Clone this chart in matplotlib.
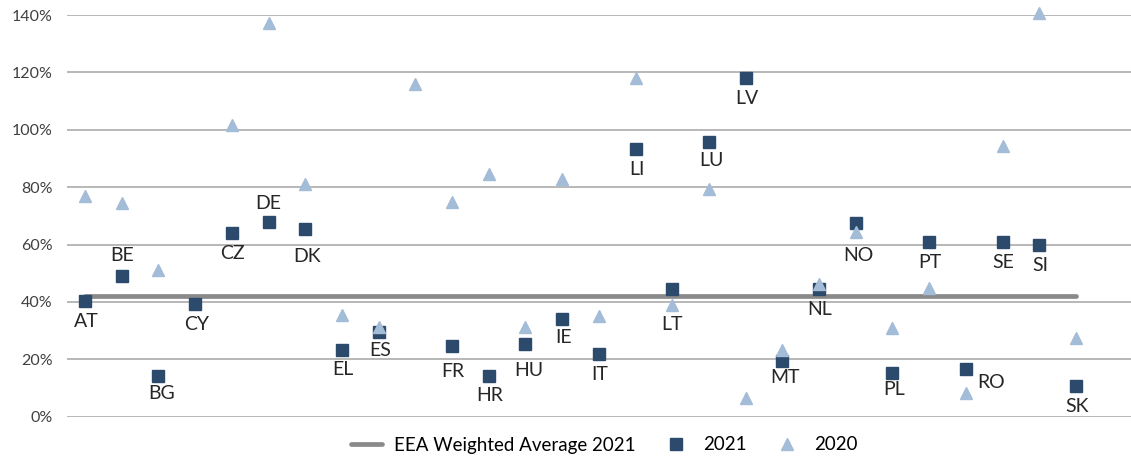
import matplotlib.pyplot as plt
import numpy as np

# country codes, positions 1..28
countries = ['AT', 'BE', 'BG', 'CY', 'CZ', 'DE', 'DK', 'EL', 'ES', 'FI',
             'FR', 'HR', 'HU', 'IE', 'IT', 'LI', 'LT', 'LU', 'LV', 'MT',
             'NL', 'NO', 'PL', 'PT', 'RO', 'SE', 'SI', 'SK']
# values in % (None = no value)
v2021 = [40.2, 49.2, 14.2, 39.2, 63.9, 67.8, 65.4, 23.3, 29.4, None,
         24.5, 14.3, 25.5, 33.9, 21.8, 93.2, 44.4, 95.8, 118.0, 19.5,
         44.4, 67.5, 15.4, 60.8, 16.7, 60.8, 59.8, 10.7]
v2020 = [76.9, 74.4, 51.0, None, 101.6, 137.3, 81.0, 35.6, 31.2, 116.0,
         74.8, 84.6, 31.2, 83.0, 35.2, 118.0, 39.0, 79.5, 6.6, 23.3,
         46.4, 64.5, 30.9, 44.8, 8.2, 94.4, 140.8, 27.4]
eea_avg = 42.0
yticks = [0, 20, 40, 60, 80, 100, 120, 140]

# label offsets in pixels (dx, dy), default is below the marker
lbl_off = {'BE': (0, 20), 'DE': (0, 19), 'LT': (0, -35), 'NO': (3, -32),
           'RO': (25, -14), 'DK': (2, -27), 'FR': (1, -25), 'HU': (3, -27),
           'ES': (2, -18), 'IE': (1, -18), 'MT': (3, -17), 'PL': (2, -17),
           'BG': (3, -18), 'LU': (2, -19)}

plt.rcParams['font.family'] = ['Lato', 'DejaVu Sans']

fig = plt.figure(figsize=(11.31, 4.62), dpi=100)
ax = fig.add_axes([0.059, 0.098, 0.941, 0.8695])

x = np.arange(1, len(countries) + 1)
ax.plot([x[0], x[-1]], [eea_avg, eea_avg], color='#8a8a8a', lw=3.4,
        solid_capstyle='round', zorder=2, label='EEA Weighted Average 2021')

x21 = [xi for xi, v in zip(x, v2021) if v is not None]
y21 = [v for v in v2021 if v is not None]
x20 = [xi for xi, v in zip(x, v2020) if v is not None]
y20 = [v for v in v2020 if v is not None]
ax.plot(x21, y21, ls='', marker='s', ms=8.6, color='#2c4a6b', zorder=3,
        label='2021', clip_on=False)
ax.plot(x20, y20, ls='', marker='^', ms=8.5, color='#a3bcd8', zorder=4,
        label='2020', clip_on=False)

for xi, c, v in zip(x, countries, v2021):
    if v is None:
        continue
    dx, dy = lbl_off.get(c, (1, -20))
    ax.annotate(c, (xi, v), xytext=(dx, dy), textcoords='offset pixels',
                ha='center', va='center', fontsize=14, color='#262626')

ax.set_xlim(0.5, 29.5)
ax.set_ylim(0, 140)
ax.set_yticks(yticks)
ax.set_yticklabels([f'{t}%' for t in yticks], fontsize=11.5, color='#404040')
ax.set_xticks([])
ax.tick_params(axis='y', length=0, pad=10)
ax.grid(axis='y', color='#b8b8b8', lw=1.4)
ax.set_axisbelow(True)
for s in ax.spines.values():
    s.set_visible(False)

fig.legend(loc='center', bbox_to_anchor=(604 / 1131, 1 - 445 / 462), ncol=3,
           frameon=False, fontsize=13.5, handlelength=1.7, columnspacing=1.3,
           handletextpad=0.6)

fig.savefig('out.png', dpi=100)
